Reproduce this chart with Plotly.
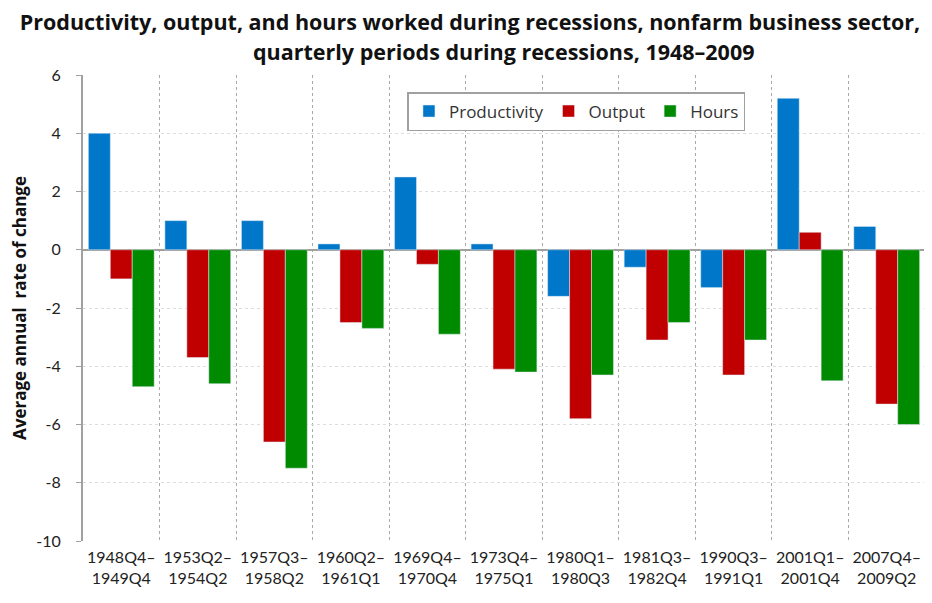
import plotly.graph_objects as go

periods = ["1948Q4–<br>1949Q4", "1953Q2–<br>1954Q2", "1957Q3–<br>1958Q2", "1960Q2–<br>1961Q1",
           "1969Q4–<br>1970Q4", "1973Q4–<br>1975Q1", "1980Q1–<br>1980Q3", "1981Q3–<br>1982Q4",
           "1990Q3–<br>1991Q1", "2001Q1–<br>2001Q4", "2007Q4–<br>2009Q2"]
productivity = [4.0, 1.0, 1.0, 0.2, 2.5, 0.2, -1.6, -0.6, -1.3, 5.2, 0.8]
output = [-1.0, -3.7, -6.6, -2.5, -0.5, -4.1, -5.8, -3.1, -4.3, 0.6, -5.3]
hours = [-4.7, -4.6, -7.5, -2.7, -2.9, -4.2, -4.3, -2.5, -3.1, -4.5, -6.0]
y_ticks = [6, 4, 2, 0, -2, -4, -6, -8, -10]
y_tick_labels = ["6", "4", "2", "0", "-2", "-4", "-6", "-8", "-10"]

title_line1 = "Productivity, output, and hours worked during recessions, nonfarm business sector,"
title_line2 = "quarterly periods during recessions, 1948–2009"

font_family = "Lato, Open Sans, sans-serif"
title_family = "Open Sans, sans-serif"

H = 595
plot_h = 466

fig = go.Figure()
fig.add_trace(go.Bar(x=periods, y=productivity, name="Productivity", marker_color="#0077c8"))
fig.add_trace(go.Bar(x=periods, y=output, name="Output", marker_color="#c00000"))
fig.add_trace(go.Bar(x=periods, y=hours, name="Hours", marker_color="#008a00"))

fig.update_layout(
    width=924, height=H,
    margin=dict(l=71, r=7, t=67, b=62),
    paper_bgcolor="white", plot_bgcolor="white",
    barmode="group", bargap=0.14, bargroupgap=0,
    font=dict(family=font_family, color="#222222"),
    title=dict(
        text="<b>" + title_line1 + "</b>",
        x=0.5, xanchor="center", y=1 - 14.5 / H, yanchor="middle",
        font=dict(size=21.5, family=title_family, color="#111111"),
    ),
    annotations=[dict(
        text="<b>" + title_line2 + "</b>", xref="paper", yref="paper",
        x=0.5, xanchor="center", y=1 + (67 - 43) / plot_h, yanchor="middle", showarrow=False,
        font=dict(size=21.5, family=title_family, color="#111111"),
    )],
    legend=dict(
        orientation="h", x=(405 - 79) / 846, y=1 - 17 / plot_h, xanchor="left", yanchor="top",
        bordercolor="#a0a0a0", borderwidth=1.5, bgcolor="white",
        font=dict(size=17, family=title_family, color="#333333"),
        itemwidth=30,
    ),
    xaxis=dict(
        type="category", tickson="boundaries", showgrid=True, griddash="dot",
        gridcolor="#a8a8a8", gridwidth=1, ticks="", showline=False,
        tickfont=dict(size=16, color="#222222"), ticklabelstandoff=5,
    ),
    yaxis=dict(
        range=[-10, 6], tickvals=y_ticks, ticktext=y_tick_labels,
        showgrid=True, gridcolor="#dddddd", griddash="dot",
        zeroline=True, zerolinecolor="#a0a0a0", zerolinewidth=2,
        showline=True, linecolor="#a0a0a0", linewidth=2, ticks="outside", ticklen=5,
        tickcolor="#a0a0a0", tickfont=dict(size=16, color="#222222"), ticklabelstandoff=12,
        title=dict(text="<b>Average annual  rate of change</b>",
                   font=dict(size=17, family=title_family, color="#111111"), standoff=9),
    ),
)

fig.write_html("out.html")
